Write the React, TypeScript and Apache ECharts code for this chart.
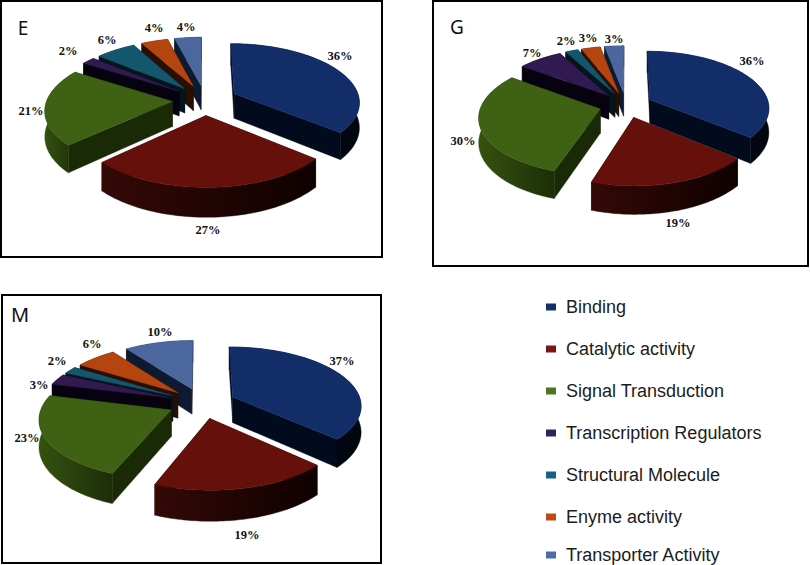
import React, { useEffect, useRef } from "react";
import * as echarts from "echarts";

const categories = ["Binding", "Catalytic activity", "Signal Transduction", "Transcription Regulators", "Structural Molecule", "Enyme activity", "Transporter Activity"];
const panelNames = ["E", "G", "M"];
const valuesE = [36, 27, 21, 2, 6, 4, 4];
const valuesG = [36, 19, 30, 7, 2, 3, 3];
const valuesM = [37, 19, 23, 3, 2, 6, 10];
const panelValues = [valuesE, valuesG, valuesM];

const topColors = ["#122d67", "#65100a", "#3f6114", "#311a4f", "#14566e", "#b5450f", "#4b679d"];
const cutColors = ["#020b1d", "#1f0403", "#1a2a06", "#07020f", "#03141c", "#2a0e02", "#0e1a30"];
const wallLeft = ["#020b1d", "#340906", "#35520f", "#07020f", "#03141c", "#2a0e02", "#0e1a30"];
const wallRight = ["#01060f", "#0e0100", "#1c2e08", "#07020f", "#03141c", "#2a0e02", "#0e1a30"];
const legendColors = ["#14306c", "#7a1713", "#4d7420", "#33215c", "#17627e", "#bf4a17", "#4f6ca8"];
const drawOrder = [4, 6, 5, 3, 2, 1, 0]; // z per category: back wedges first

const panelGeom = [
  { cx: 205, cy: 100, rx: 125.5, ry: 58, explode: 0.26, depth: 25 },
  { cx: 626, cy: 105, rx: 119, ry: 56, explode: 0.225, depth: 24 },
  { cx: 202, cy: 403, rx: 128.5, ry: 58, explode: 0.264, depth: 26 },
];
const perspective = 0.13;
const frames = [
  { x: 1, y: 1, width: 381, height: 256 },
  { x: 433, y: 1, width: 375, height: 265 },
  { x: 2, y: 295, width: 379, height: 268 },
];
const panelLetterPos = [[23, 28, 19], [457, 27, 19], [20, 314, 20]];
const labelPos = [
  [[340, 56], [208, 230], [31, 111], [68, 51], [107, 40], [154, 28], [186, 27]],
  [[752, 61], [678, 223], [463, 141], [532, 53], [566, 41], [588, 38], [614, 39]],
  [[342, 361], [247, 535], [27, 438], [39, 385], [57, 361], [92, 344], [160, 332]],
];
const legendCenterY = [307, 349, 391, 433, 475, 517, 555];

function wedge(panel: number, cat: number) {
  const vals = panelValues[panel];
  const g = panelGeom[panel];
  const total = vals.reduce((a, b) => a + b, 0);
  const before = vals.slice(0, cat).reduce((a, b) => a + b, 0);
  const a0 = (before / total) * Math.PI * 2;
  const a1 = ((before + vals[cat]) / total) * Math.PI * 2;
  const mid = (a0 + a1) / 2;
  const ox = Math.sin(mid) * g.explode;
  const oy = -Math.cos(mid) * g.explode;
  const project = (X: number, Y: number, down: number): number[] => {
    const s = 1 / (1 - perspective * Y);
    return [g.cx + X * s * g.rx, g.cy + Y * s * g.ry + down * s];
  };
  const rim = (a: number, down: number) => project(ox + Math.sin(a), oy - Math.cos(a), down);
  const steps = 60;
  const arcTop: number[][] = [];
  const arcBottom: number[][] = [];
  for (let i = 0; i <= steps; i++) {
    const a = a0 + ((a1 - a0) * i) / steps;
    arcTop.push(rim(a, 0));
    arcBottom.push(rim(a, g.depth));
  }
  const apexTop = project(ox, oy, 0);
  const apexBottom = project(ox, oy, g.depth);
  return {
    top: [apexTop, ...arcTop],
    cutStart: [apexTop, arcTop[0], arcBottom[0], apexBottom],
    cutEnd: [apexTop, arcTop[steps], arcBottom[steps], apexBottom],
    outer: [...arcTop, ...arcBottom.slice().reverse()],
  };
}

function makeRenderItem(cat: number) {
  return (_params: any, api: any) => {
    const panel = api.value(0) as number;
    const w = wedge(panel, cat);
    const [lx, ly] = labelPos[panel][cat];
    const poly = (points: number[][], fill: any) => ({
      type: "polygon",
      shape: { points },
      style: { fill, stroke: fill, lineWidth: 0.4 },
    });
    return {
      type: "group",
      children: [
        poly(w.cutStart, cutColors[cat]),
        poly(w.cutEnd, cutColors[cat]),
        poly(
          w.outer,
          new echarts.graphic.LinearGradient(0, 0, 1, 0, [
            { offset: 0, color: wallLeft[cat] },
            { offset: 1, color: wallRight[cat] },
          ])
        ),
        poly(w.top, topColors[cat]),
        {
          type: "text",
          z2: 50,
          style: {
            text: api.value(1) + "%",
            x: lx,
            y: ly,
            align: "center",
            verticalAlign: "middle",
            fill: "#111",
            fontFamily: "Liberation Serif",
            fontWeight: "bold",
            fontSize: 12.5,
          },
        },
      ],
    };
  };
}

export default function App() {
  const ref = useRef<HTMLDivElement>(null);
  useEffect(() => {
    const chart = echarts.init(ref.current!, undefined, { renderer: "svg" });
    chart.setOption({
      animation: false,
      backgroundColor: "#fff",
      legend: categories.map((name, i) => ({
        data: [name],
        left: 546,
        top: legendCenterY[i] - 10,
        padding: 0,
        icon: "rect",
        itemWidth: 10,
        itemHeight: 7,
        selectedMode: false,
        textStyle: { fontFamily: "Liberation Sans", fontSize: 18, color: "#1c1c1c", padding: [0, 0, 0, 5], lineHeight: 20 },
      })),
      graphic: [
        ...frames.map((f) => ({
          type: "rect",
          shape: f,
          style: { fill: "none", stroke: "#000", lineWidth: 2 },
          z: 0,
        })),
        ...panelNames.map((t, i) => ({
          type: "text",
          style: {
            text: t,
            x: panelLetterPos[i][0],
            y: panelLetterPos[i][1],
            align: "center",
            verticalAlign: "middle",
            fill: "#111",
            fontFamily: "Noto Sans",
            fontSize: panelLetterPos[i][2],
          },
          z: 5,
        })),
      ],
      series: categories.map((name, cat) => ({
        type: "custom",
        name,
        coordinateSystem: "none",
        z: 2 + drawOrder[cat],
        itemStyle: { color: legendColors[cat] },
        data: panelValues.map((vals, p) => [p, vals[cat]]),
        renderItem: makeRenderItem(cat),
      })),
    });
    return () => chart.dispose();
  }, []);
  return <div ref={ref} style={{ position: "absolute", left: 0, top: 0, width: 810, height: 565 }} />;
}
